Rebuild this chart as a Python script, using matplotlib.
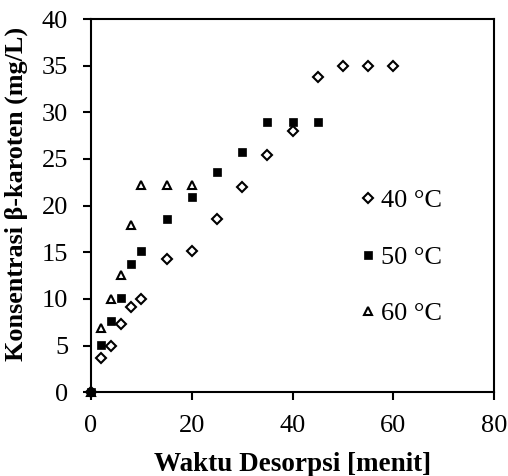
import matplotlib.pyplot as plt

# desorption time (menit) and beta-carotene concentration (mg/L)
t_40 = [0, 2, 4, 6, 8, 10, 15, 20, 25, 30, 35, 40, 45, 50, 55, 60]
c_40 = [0, 3.7, 5.0, 7.3, 9.1, 10.0, 14.3, 15.1, 18.6, 22.0, 25.4, 28.0, 33.8, 35.0, 35.0, 35.0]

t_50 = [0, 2, 4, 6, 8, 10, 15, 20, 25, 30, 35, 40, 45]
c_50 = [0, 5.1, 7.6, 10.1, 13.7, 15.1, 18.6, 20.9, 23.6, 25.8, 29.0, 29.0, 29.0]

t_60 = [0, 2, 4, 6, 8, 10, 15, 20]
c_60 = [0, 6.9, 10.0, 12.6, 17.9, 22.2, 22.2, 22.2]

plt.rcParams['font.family'] = ['Liberation Serif', 'DejaVu Serif']

fig = plt.figure(figsize=(5.08, 4.76), dpi=100)
ax = fig.add_axes([0.179, 0.176, 0.794, 0.784])

ax.plot(t_40, c_40, linestyle='none', marker='D', markersize=5.2, markerfacecolor='white',
        markeredgecolor='black', markeredgewidth=1.5, label='40 °C', clip_on=False, zorder=3)
ax.plot(t_50, c_50, linestyle='none', marker='s', markersize=5.5, markerfacecolor='black',
        markeredgecolor='black', markeredgewidth=0.5, label='50 °C', clip_on=False, zorder=4)
ax.plot(t_60, c_60, linestyle='none', marker='^', markersize=5.5, markerfacecolor='white',
        markeredgecolor='black', markeredgewidth=1.5, label='60 °C', clip_on=False, zorder=3)

ax.set_xlim(0, 80)
ax.set_ylim(0, 40)
ax.set_xticks([0, 20, 40, 60, 80])
ax.set_yticks(range(0, 41, 5))

for s in ax.spines.values():
    s.set_linewidth(1.5)
ax.tick_params(direction='out', length=5.5, width=1.5, labelsize=19, pad=11)

ax.set_xlabel('Waktu Desorpsi [menit]', fontsize=19.5, fontweight='bold', labelpad=11)
ax.set_ylabel('Konsentrasi β-karoten (mg/L)', fontsize=18.8, fontweight='bold')
ax.yaxis.set_label_coords(-0.155, 0.53)

ax.legend(loc='center left', bbox_to_anchor=(0.635, 0.362), frameon=False, fontsize=19,
          handlelength=0.6, handletextpad=0.2, labelspacing=1.25, borderpad=0)

fig.savefig('out.png', dpi=100)
